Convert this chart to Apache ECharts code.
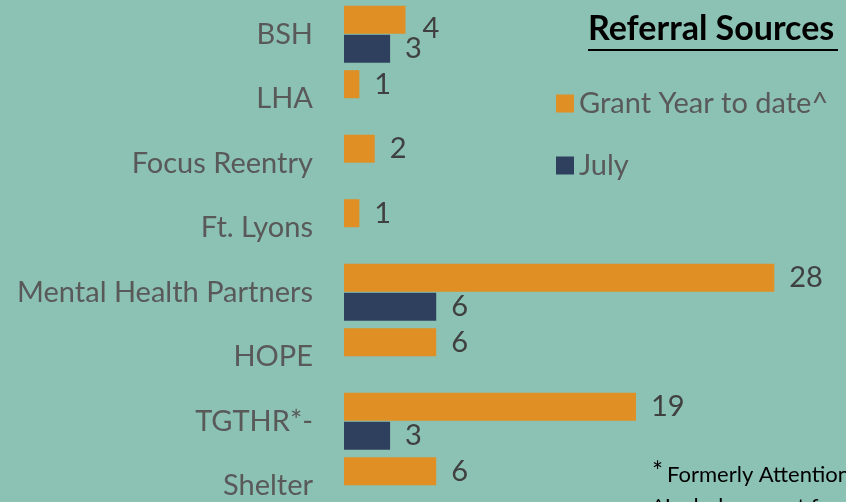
<!DOCTYPE html>
<html>
<head>
<meta charset="utf-8">
<script src="https://cdn.jsdelivr.net/npm/echarts@6/dist/echarts.min.js"></script>
<style>
  html, body { margin: 0; padding: 0; background: #8BC2B3; }
  #chart { width: 846px; height: 502px; }
</style>
</head>
<body>
<div id="chart"></div>
<script>
// categories top to bottom
var sources = ['BSH', 'LHA', 'Focus Reentry', 'Ft. Lyons', 'Mental Health Partners', 'HOPE', 'TGTHR*-', 'Shelter'];
var grantYear = [4, 1, 2, 1, 28, 6, 19, 6];
var july = [3, null, null, null, 6, null, 3, null];

var FONT = 'Lato, "Open Sans", sans-serif';
var chart = echarts.init(document.getElementById('chart'));

var option = {
  backgroundColor: '#8BC2B3',
  animation: false,
  grid: { left: 344, top: 2, width: 461, height: 516, containLabel: false, outerBoundsMode: 'none' },
  legend: {
    orient: 'vertical',
    left: 551,
    top: 84,
    itemWidth: 18,
    itemHeight: 18,
    itemGap: 33,
    icon: 'rect',
    textStyle: { color: '#595959', fontSize: 29, fontFamily: FONT },
    data: ['Grant Year to date^', 'July']
  },
  xAxis: {
    type: 'value', min: 0, max: 30,
    show: false
  },
  yAxis: {
    type: 'category',
    data: sources,
    inverse: true,
    axisLine: { show: false },
    axisTick: { show: false },
    axisLabel: { color: '#595959', fontSize: 29, fontFamily: FONT, margin: 31 }
  },
  series: [
    {
      name: 'Grant Year to date^',
      type: 'bar',
      data: grantYear.map(function (v, i) {
        return i === 0 ? { value: v, label: { offset: [2, 9] } } : v;
      }),
      barWidth: 28,
      barGap: '4%',
      itemStyle: { color: '#E08F24' },
      label: { show: true, position: 'right', distance: 15, color: '#404040', fontSize: 29, fontFamily: FONT }
    },
    {
      name: 'July',
      type: 'bar',
      data: july,
      barWidth: 28,
      itemStyle: { color: '#2F405E' },
      label: { show: true, position: 'right', distance: 15, color: '#404040', fontSize: 29, fontFamily: FONT }
    }
  ],
  graphic: [
    {
      type: 'text', left: 588, top: 12,
      style: { text: 'Referral Sources', fill: '#000', font: 'bold 34px ' + FONT }
    },
    {
      type: 'line', shape: { x1: 588, y1: 50, x2: 838, y2: 50 },
      style: { stroke: '#000', lineWidth: 2 }
    },
    {
      type: 'text', left: 652, top: 460,
      style: { text: '*', fill: '#000', font: '26px ' + FONT }
    },
    {
      type: 'text', left: 667, top: 464,
      style: { text: 'Formerly Attention Homes', fill: '#000', font: '22px ' + FONT }
    },
    {
      type: 'text', left: 652, top: 496,
      style: { text: '^Includes count from the start of the grant year', fill: '#000', font: '22px ' + FONT }
    }
  ]
};
chart.setOption(option);
</script>
</body>
</html>
